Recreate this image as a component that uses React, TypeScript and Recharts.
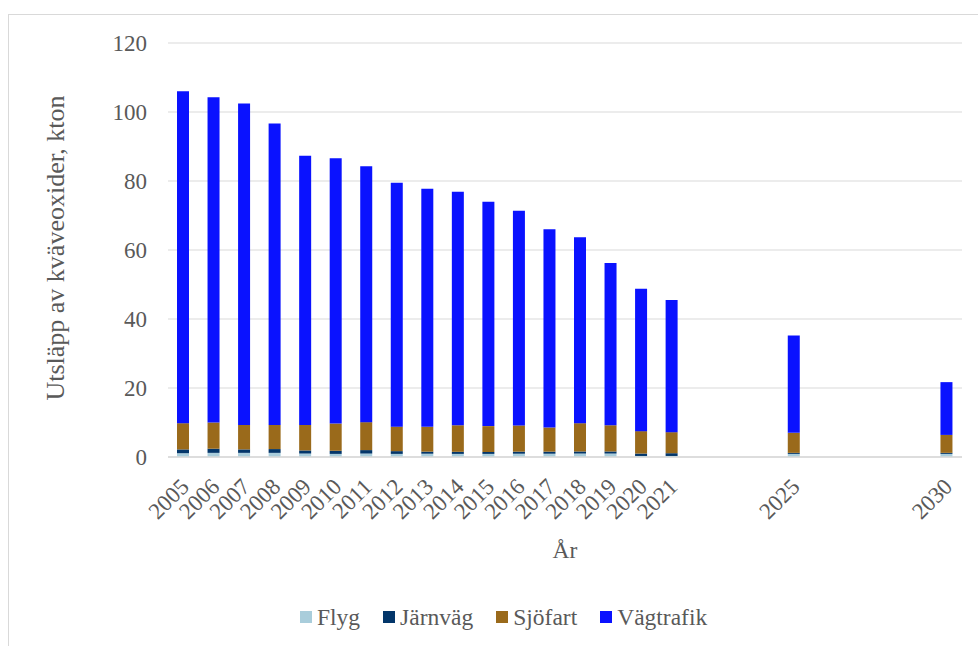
import React from "react";
import { BarChart, Bar, XAxis, YAxis, CartesianGrid, Legend } from "recharts";

const years = [
  "2005", "2006", "2007", "2008", "2009", "2010", "2011", "2012", "2013",
  "2014", "2015", "2016", "2017", "2018", "2019", "2020", "2021", "2022",
  "2023", "2024", "2025", "2026", "2027", "2028", "2029", "2030",
];

const labeledYears = [
  "2005", "2006", "2007", "2008", "2009", "2010", "2011", "2012", "2013",
  "2014", "2015", "2016", "2017", "2018", "2019", "2020", "2021", "2025", "2030",
];

const flyg = [1.1, 1.2, 1.2, 1.2, 1.0, 0.9, 1.0, 0.9, 0.95, 0.9, 0.9, 0.95, 0.95, 1.0, 1.0, 0.3, 0.3, 0.9, 0.9];
const jarnvag = [1.1, 1.2, 1.0, 1.1, 0.9, 0.9, 1.0, 0.8, 0.6, 0.6, 0.55, 0.6, 0.6, 0.6, 0.6, 0.7, 0.8, 0.3, 0.3];
const sjofart = [7.6, 7.6, 7.1, 7.0, 7.4, 7.9, 8.1, 7.1, 7.2, 7.7, 7.5, 7.6, 7.0, 8.2, 7.6, 6.5, 6.1, 5.8, 5.2];
const vagtrafik = [96.2, 94.3, 93.2, 87.4, 78.0, 76.9, 74.2, 70.7, 69.0, 67.7, 65.0, 62.2, 57.5, 53.9, 47.0, 41.3, 38.3, 28.2, 15.3];

const yTicks = [0, 20, 40, 60, 80, 100, 120];

const seriesNames = ["Flyg", "Järnväg", "Sjöfart", "Vägtrafik"];
const seriesColors = ["#a9cddb", "#03366a", "#9a6a1b", "#0a12ff"];

const data = years.map((year) => {
  const i = labeledYears.indexOf(year);
  if (i < 0) return { year };
  return {
    year,
    Flyg: flyg[i],
    "Järnväg": jarnvag[i],
    "Sjöfart": sjofart[i],
    "Vägtrafik": vagtrafik[i],
  };
});

const FONT = '"Liberation Serif", "Times New Roman", serif';
const TEXT = "#595959";

const XTick = (props: any) => {
  const { x, y, payload } = props;
  if (!labeledYears.includes(payload.value)) return null;
  return (
    <text
      transform={`translate(${x + 7},${y + 31}) rotate(-45)`}
      textAnchor="end"
      fill={TEXT}
      fontSize={23}
      fontFamily={FONT}
    >
      {payload.value}
    </text>
  );
};

const LegendContent = () => (
  <div
    style={{
      display: "flex",
      alignItems: "center",
      gap: 23,
      fontFamily: FONT,
      fontSize: 23.5,
      color: TEXT,
      lineHeight: "26px",
    }}
  >
    {seriesNames.map((n, i) => (
      <div key={n} style={{ display: "flex", alignItems: "center" }}>
        <span
          style={{
            display: "inline-block",
            width: 12,
            height: 12,
            background: seriesColors[i],
            marginRight: 5,
          }}
        />
        <span>{n}</span>
      </div>
    ))}
  </div>
);

export default function App() {
  return (
    <div
      style={{
        position: "absolute",
        left: 0,
        top: 0,
        width: 978,
        height: 646,
        overflow: "hidden",
        background: "#fff",
      }}
    >
      <div
        style={{
          position: "absolute",
          left: 8,
          top: 14,
          width: 1100,
          height: 800,
          border: "1px solid #d9d9d9",
          boxSizing: "border-box",
        }}
      />
      <div style={{ position: "absolute", left: 0, top: 0 }}>
        <BarChart
          width={978}
          height={646}
          data={data}
          margin={{ top: 43, right: 16, left: 0, bottom: 89 }}
          barSize={12}
        >
          <CartesianGrid vertical={false} stroke="#d9d9d9" strokeWidth={1.2} />
          <XAxis
            dataKey="year"
            type="category"
            interval={0}
            height={100}
            tickSize={0}
            tickMargin={0}
            tickLine={false}
            axisLine={{ stroke: "#d9d9d9", strokeWidth: 1.5 }}
            tick={<XTick />}
            label={{
              content: (p: any) => {
                const vb = p.viewBox || {};
                return (
                  <text
                    x={(vb.x || 0) + (vb.width || 0) / 2}
                    y={558}
                    textAnchor="middle"
                    fill={TEXT}
                    fontSize={23.5}
                    fontFamily={FONT}
                  >
                    År
                  </text>
                );
              },
            }}
          />
          <YAxis
            width={168}
            domain={[0, 120]}
            ticks={yTicks}
            interval={0}
            tickLine={false}
            axisLine={false}
            tickSize={19}
            tickMargin={2}
            tick={{ fill: TEXT, fontSize: 23, fontFamily: FONT }}
            label={{
              content: () => (
                <text
                  x={64}
                  y={248}
                  transform="rotate(-90, 64, 248)"
                  textAnchor="middle"
                  fill={TEXT}
                  fontSize={26}
                  fontFamily={FONT}
                >
                  Utsläpp av kväveoxider, kton
                </text>
              ),
            }}
          />
          <Legend
            layout="horizontal"
            verticalAlign="middle"
            align="center"
            wrapperStyle={{ left: 300, top: 604, width: 500, height: 26 }}
            content={<LegendContent />}
          />
          {seriesNames.map((n, i) => (
            <Bar
              key={n}
              dataKey={n}
              stackId="a"
              fill={seriesColors[i]}
              isAnimationActive={false}
            />
          ))}
        </BarChart>
      </div>
    </div>
  );
}
